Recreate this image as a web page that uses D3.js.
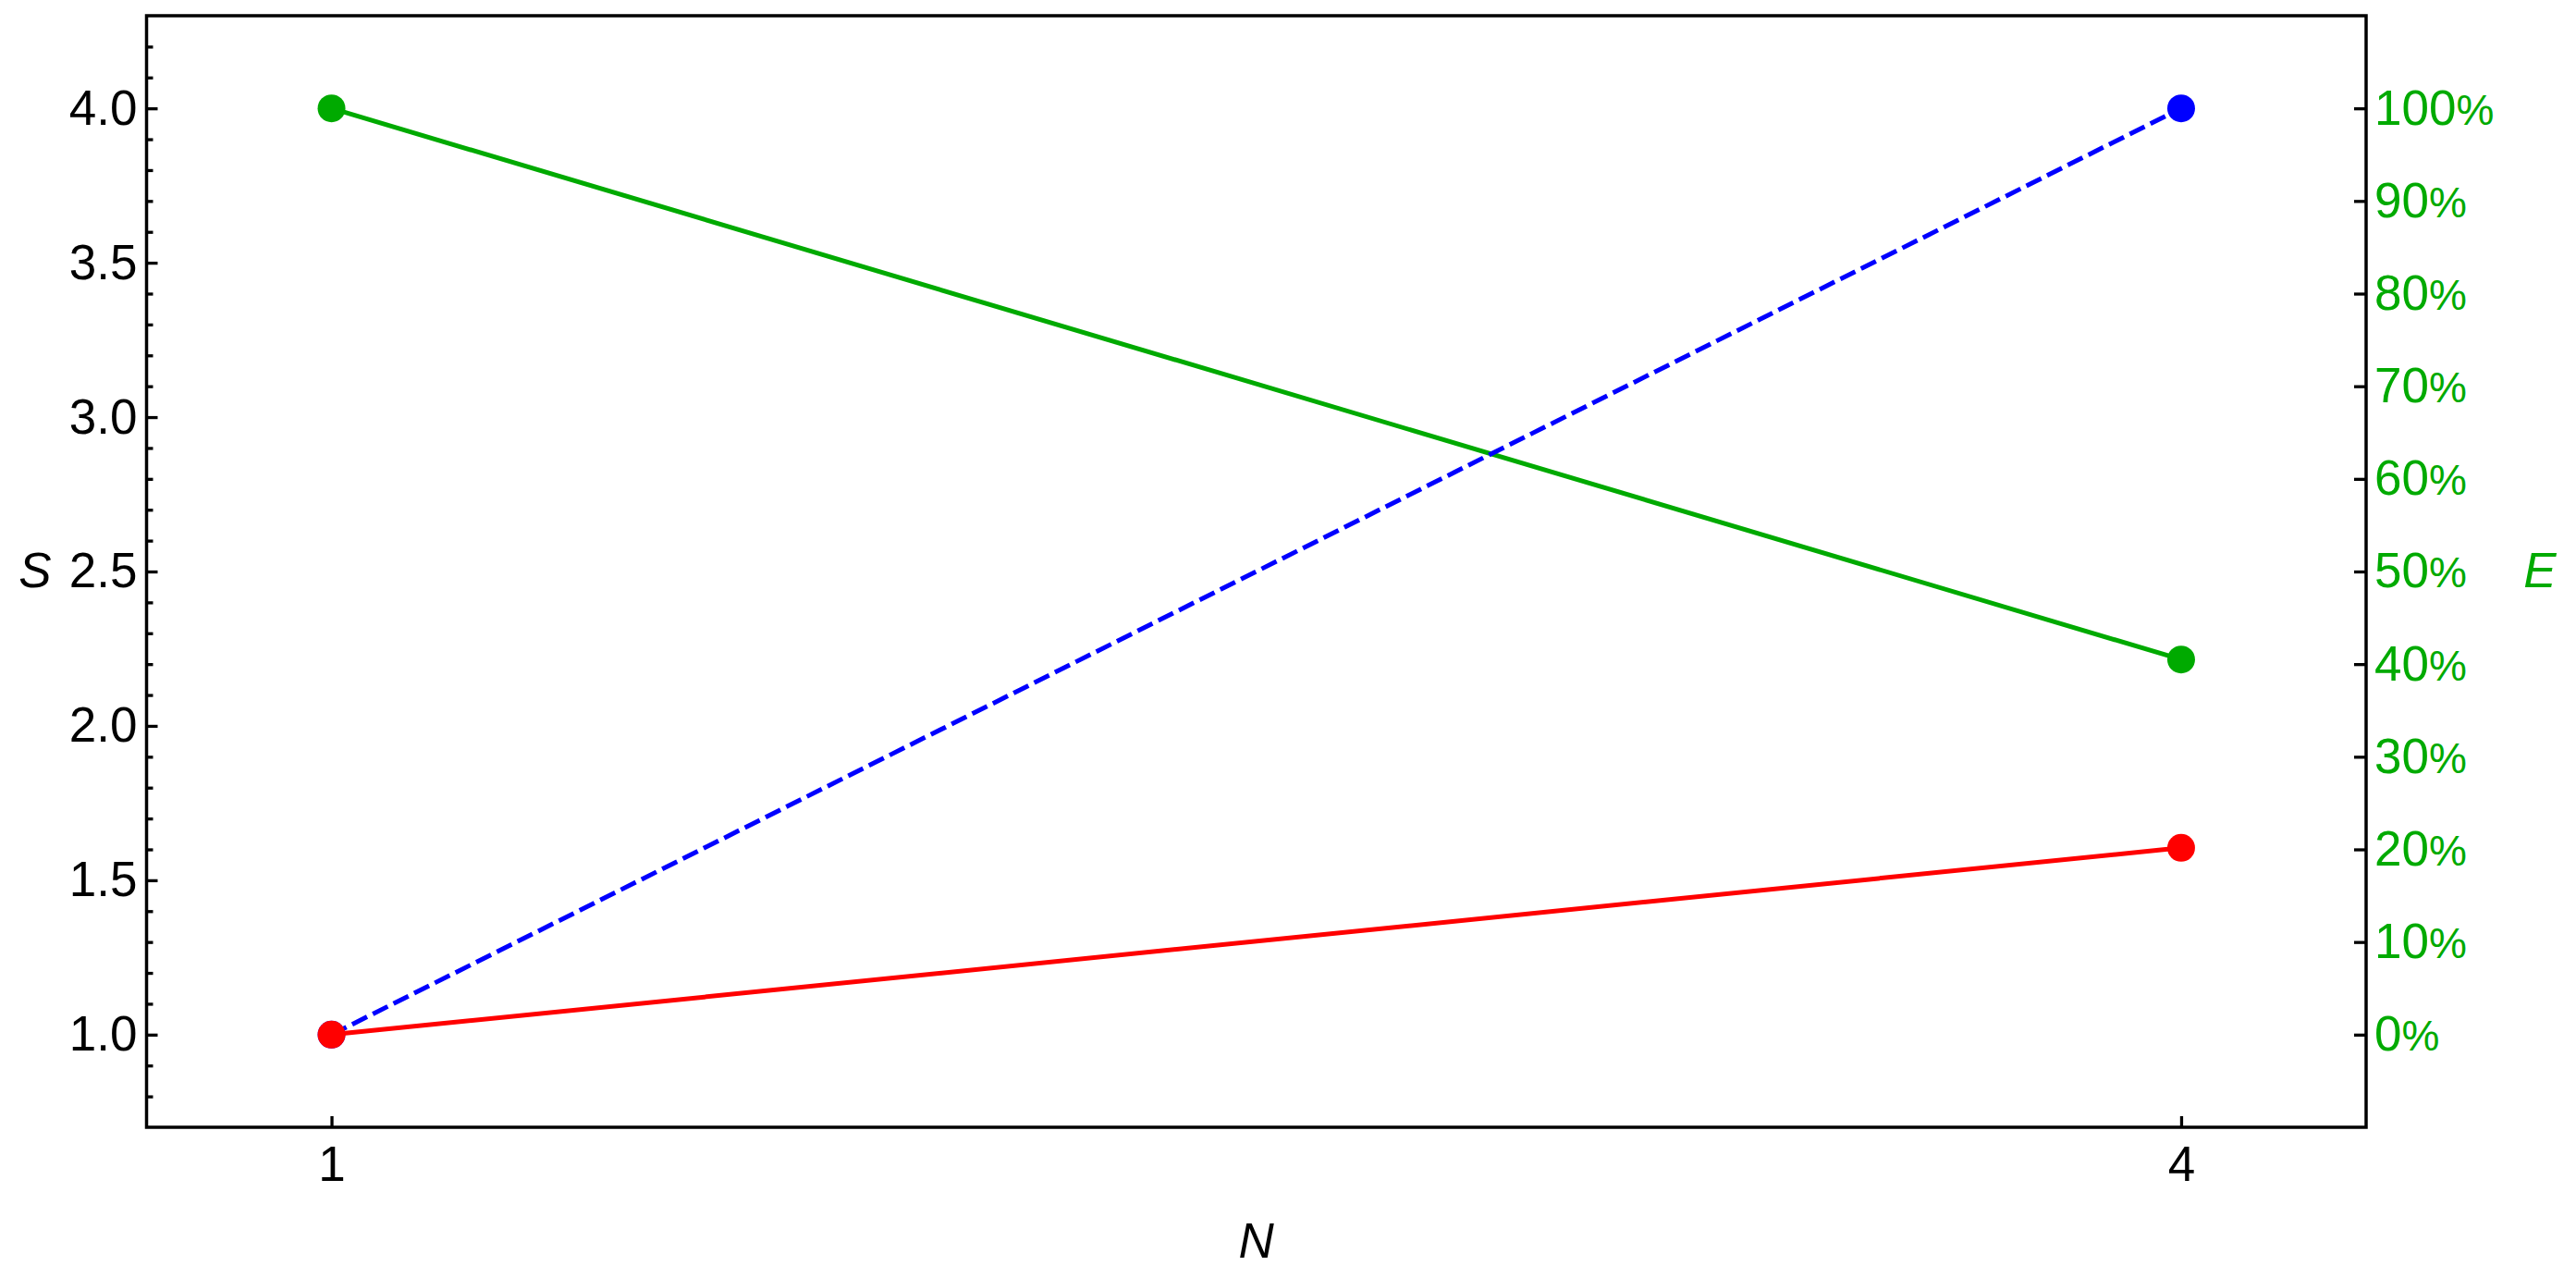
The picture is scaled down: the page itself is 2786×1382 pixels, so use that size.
<!DOCTYPE html>
<html>
<head>
<meta charset="utf-8">
<script src="https://cdn.jsdelivr.net/npm/d3@7"></script>
<style>
    body { margin: 0; background: #ffffff; }
    svg { display: block; }
    text { font-family: "Liberation Sans", Arial, sans-serif; }
</style>
</head>
<body>
<svg id="chart"></svg>
<script>
// Donnees
const nValues = [1, 4];
const sRed = [1.0, 1.605];
const sBlue = [1.0, 4.0];
const eGreen = [1.0, 0.405];

const nTicks = [1, 4];
const sTicks = [1.0, 1.5, 2.0, 2.5, 3.0, 3.5, 4.0];
const eTicks = [0, 0.1, 0.2, 0.3, 0.4, 0.5, 0.6, 0.7, 0.8, 0.9, 1.0];

const config = {
    width: 2786,
    height: 1382,
    fontSize: 53,
    colors: { red: "#ff0000", blue: "#0000ff", green: "#00aa00", axis: "#000000" }
};

const margin = { left: 158.5, right: 2559, top: 17, bottom: 1219 };

const svg = d3.select("#chart")
    .attr("width", config.width)
    .attr("height", config.height);

const x = d3.scaleLinear().domain([0.7, 4.3]).range([margin.left, margin.right]);
const yS = d3.scaleLinear().domain([0.7, 4.3]).range([margin.bottom, margin.top]);
// E: 0% aligne sur S=1, 100% aligne sur S=4
const yE = d3.scaleLinear().domain([-0.1, 1.1]).range([margin.bottom, margin.top]);

function styleAxis(g) {
    g.select(".domain").remove();
    g.selectAll(".tick line").attr("stroke", config.colors.axis).attr("stroke-width", 3.3);
    g.selectAll(".tick text")
        .attr("font-size", config.fontSize)
        .attr("font-family", "'Liberation Sans', Arial, sans-serif");
}

// graduations secondaires de l'axe gauche
const minor = yS.ticks(36).filter(v => v > 0.75 && v < 4.25 && !sTicks.some(t => Math.abs(t - v) < 1e-6));
svg.append("g")
    .attr("transform", `translate(${margin.left},0)`)
    .call(d3.axisLeft(yS).tickValues(minor).tickSize(-7).tickFormat(""))
    .call(styleAxis);

// axe gauche S
svg.append("g")
    .attr("transform", `translate(${margin.left},0)`)
    .call(d3.axisLeft(yS).tickValues(sTicks).tickSize(-12).tickPadding(10).tickFormat(d3.format(".1f")))
    .call(styleAxis)
    .selectAll(".tick text").attr("fill", config.colors.axis);

// axe bas N
svg.append("g")
    .attr("transform", `translate(0,${margin.bottom})`)
    .call(d3.axisBottom(x).tickValues(nTicks).tickSize(-12).tickPadding(20).tickFormat(d3.format("d")))
    .call(styleAxis)
    .selectAll(".tick text").attr("fill", config.colors.axis);

// axe droit E
const right = svg.append("g")
    .attr("transform", `translate(${margin.right},0)`)
    .call(d3.axisRight(yE).tickValues(eTicks).tickSize(-13).tickPadding(9).tickFormat(""))
    .call(styleAxis);

right.selectAll(".tick text")
    .attr("fill", config.colors.green)
    .each(function (d) {
        const t = d3.select(this);
        t.text(Math.round(d * 100));
        t.append("tspan")
            .attr("font-family", "'Liberation Sans Narrow', 'Liberation Sans', Arial, sans-serif")
            .attr("font-size", 46)
            .text("%");
    });

// cadre
svg.append("rect")
    .attr("x", margin.left)
    .attr("y", margin.top)
    .attr("width", margin.right - margin.left)
    .attr("height", margin.bottom - margin.top)
    .attr("fill", "none")
    .attr("stroke", config.colors.axis)
    .attr("stroke-width", 3.5);

// titres des axes
svg.append("text")
    .attr("x", 38)
    .attr("y", yS(2.5))
    .attr("dy", "0.32em")
    .attr("text-anchor", "middle")
    .attr("font-size", config.fontSize)
    .attr("font-style", "italic")
    .text("S");

svg.append("text")
    .attr("x", 2747)
    .attr("y", yS(2.5))
    .attr("dy", "0.32em")
    .attr("text-anchor", "middle")
    .attr("font-size", config.fontSize)
    .attr("font-style", "italic")
    .attr("fill", config.colors.green)
    .text("E");

svg.append("text")
    .attr("x", (margin.left + margin.right) / 2)
    .attr("y", 1360)
    .attr("text-anchor", "middle")
    .attr("font-size", config.fontSize)
    .attr("font-style", "italic")
    .text("N");

// series
function drawSeries(values, yScale, color, dash) {
    const pts = nValues.map((n, i) => [n, values[i]]);
    const line = d3.line().x(d => x(d[0])).y(d => yScale(d[1]));
    svg.append("path")
        .datum(pts)
        .attr("d", line)
        .attr("fill", "none")
        .attr("stroke", color)
        .attr("stroke-width", 5)
        .attr("stroke-dasharray", dash || null);
    svg.append("g")
        .selectAll("circle")
        .data(pts)
        .enter()
        .append("circle")
        .attr("cx", d => x(d[0]))
        .attr("cy", d => yScale(d[1]))
        .attr("r", 15)
        .attr("fill", color);
}

drawSeries(eGreen, yE, config.colors.green);
drawSeries(sBlue, yS, config.colors.blue, "18,7");
drawSeries(sRed, yS, config.colors.red);
</script>
</body>
</html>
